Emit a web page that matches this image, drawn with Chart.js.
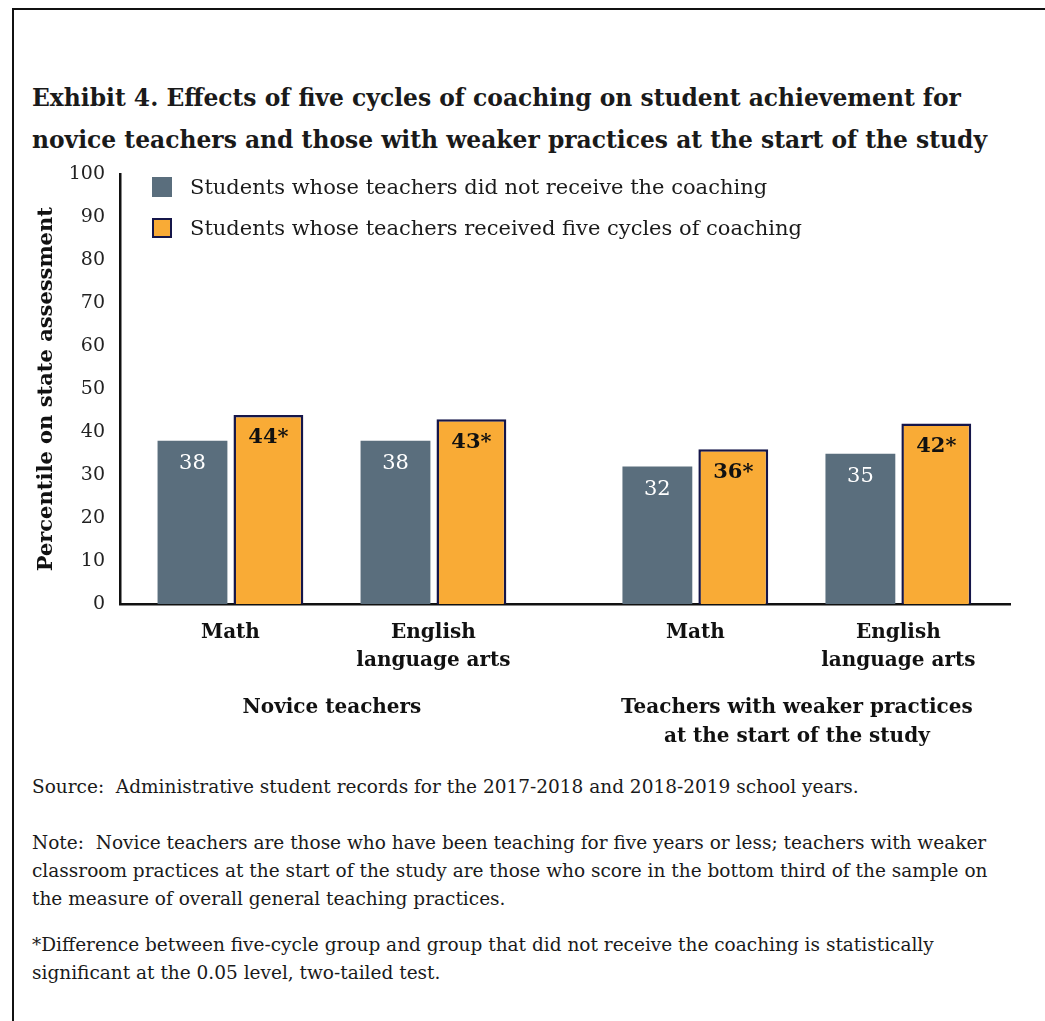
<!DOCTYPE html>
<html>
<head>
<meta charset="utf-8">
<script src="https://cdn.jsdelivr.net/npm/chart.js@4.4.1/dist/chart.umd.min.js"></script>
<style>
  body { margin: 0; background: #fff; font-family: 'DejaVu Serif', 'Liberation Serif', serif; color: #1a1a1a; }
  .page { position: relative; width: 1045px; height: 1021px; overflow: hidden; }
  .frame { position: absolute; left: 12px; top: 8px; width: 1100px; height: 1100px; border-top: 2px solid #111; border-left: 2px solid #111; }
  h2 { position: absolute; left: 32px; top: 77px; margin: 0; font-size: 23.4px; line-height: 42px; font-weight: bold; white-space: nowrap; }
  #chartBox { position: absolute; left: 0; top: 148px; width: 1045px; height: 612px; }
  #legend { position: absolute; left: 152px; top: 175px; }
  .leg-item { display: flex; align-items: center; height: 24px; margin-bottom: 17px; font-size: 21px; white-space: nowrap; }
  .leg-box { width: 20px; height: 20px; box-sizing: border-box; margin-right: 18px; }
  .note { position: absolute; left: 32px; font-size: 18.5px; line-height: 28px; margin: 0; white-space: nowrap; }
</style>
</head>
<body>
<div class="page">
  <div class="frame"></div>
  <h2>Exhibit 4. Effects of five cycles of coaching on student achievement for<br>novice teachers and those with weaker practices at the start of the study</h2>
  <div id="chartBox"><canvas id="coachChart"></canvas></div>
  <div id="legend"></div>
  <p class="note" style="top:773px">Source:&nbsp; Administrative student records for the 2017-2018 and 2018-2019 school years.</p>
  <p class="note" style="top:829px">Note:&nbsp; Novice teachers are those who have been teaching for five years or less; teachers with weaker<br>classroom practices at the start of the study are those who score in the bottom third of the sample on<br>the measure of overall general teaching practices.</p>
  <p class="note" style="top:931px">*Difference between five-cycle group and group that did not receive the coaching is statistically<br>significant at the 0.05 level, two-tailed test.</p>
</div>
<script>
// categories and groups
const categories = ['Math', ['English', 'language arts'], 'Math', ['English', 'language arts']];
const groupOf = [0, 0, 1, 1];
const groups = ['Novice teachers', ['Teachers with weaker practices', 'at the start of the study']];

// series values (percentile)
const noCoaching = [38, 38, 32, 35];
const fiveCycles = [44, 43, 36, 42];
const fiveCyclesSig = [true, true, true, true];

const yTicks = [0, 10, 20, 30, 40, 50, 60, 70, 80, 90, 100];

const seriesNames = [
  'Students whose teachers did not receive the coaching',
  'Students whose teachers received five cycles of coaching'
];

// slot positions on the x axis, with extra room between the two teacher groups
const groupGap = 0.29;
const slots = categories.map((c, i) => i + groupOf[i] * groupGap);
const groupCenters = groups.map((g, gi) => {
  const s = slots.filter((v, i) => groupOf[i] === gi);
  return (s[0] + s[s.length - 1]) / 2;
});

const GRAY = '#5a6e7d';
const ORANGE = '#f9ab36';
const NAVY = '#15164a';
const SERIF = "'DejaVu Serif', 'Liberation Serif', serif";

// draws the value inside the top of each bar
const barValues = {
  id: 'barValues',
  afterDatasetsDraw(chart) {
    const ctx = chart.ctx;
    ctx.save();
    ctx.textAlign = 'center';
    ctx.textBaseline = 'middle';
    chart.data.datasets.forEach((ds, di) => {
      chart.getDatasetMeta(di).data.forEach((bar, i) => {
        const v = ds.data[i].y;
        let txt = String(v);
        if (di === 1) {
          if (fiveCyclesSig[i]) txt += '*';
          ctx.fillStyle = '#111';
          ctx.font = 'bold 21px ' + SERIF;
        } else {
          ctx.fillStyle = '#ffffff';
          ctx.font = '21px ' + SERIF;
        }
        ctx.fillText(txt, bar.x, bar.y + 23);
      });
    });
    ctx.restore();
  }
};

const xRange = { min: slots[0] - 0.544, max: slots[slots.length - 1] + 0.55 };

const chart = new Chart(document.getElementById('coachChart'), {
  type: 'bar',
  data: {
    datasets: [
      {
        label: seriesNames[0],
        data: noCoaching.map((v, i) => ({ x: slots[i], y: v })),
        backgroundColor: GRAY,
        borderWidth: 0
      },
      {
        label: seriesNames[1],
        data: fiveCycles.map((v, i) => ({ x: slots[i], y: v })),
        backgroundColor: ORANGE,
        borderColor: NAVY,
        borderWidth: 2.5
      }
    ]
  },
  options: {
    responsive: true,
    maintainAspectRatio: false,
    animation: false,
    categoryPercentage: 0.748,
    barPercentage: 0.92,
    layout: { padding: { top: 6, right: 35, left: 0, bottom: 0 } },
    plugins: {
      legend: { display: false },
      tooltip: { enabled: false }
    },
    scales: {
      x: {
        type: 'linear',
        position: 'bottom',
        weight: 0,
        offset: false,
        min: xRange.min,
        max: xRange.max,
        afterBuildTicks(scale) { scale.ticks = slots.map(v => ({ value: v })); },
        afterFit(scale) { scale.height = 76; },
        grid: { display: false, drawTicks: false },
        border: { display: true, color: '#111', width: 2.5 },
        ticks: {
          autoSkip: false,
          maxRotation: 0,
          padding: 15,
          color: '#111',
          font: { family: SERIF, size: 20, weight: 'bold', lineHeight: '28px' },
          callback: (value, index) => categories[index]
        }
      },
      x2: {
        type: 'linear',
        position: 'bottom',
        weight: 1,
        offset: false,
        min: xRange.min,
        max: xRange.max,
        afterBuildTicks(scale) { scale.ticks = groupCenters.map(v => ({ value: v })); },
        afterFit(scale) { scale.height = 80; },
        grid: { display: false, drawTicks: false },
        border: { display: false },
        ticks: {
          autoSkip: false,
          maxRotation: 0,
          padding: 13,
          color: '#111',
          font: { family: SERIF, size: 20, weight: 'bold', lineHeight: '29px' },
          callback: (value, index) => groups[index]
        }
      },
      y: {
        min: 0,
        max: 100,
        afterBuildTicks(scale) { scale.ticks = yTicks.map(v => ({ value: v })); },
        afterFit(scale) { scale.width = 120; },
        grid: { display: false, drawTicks: false },
        border: { display: true, color: '#111', width: 2.5 },
        ticks: {
          padding: 15,
          color: '#222',
          font: { family: SERIF, size: 19 }
        },
        title: {
          display: true,
          text: 'Percentile on state assessment',
          color: '#111',
          padding: { top: 34, bottom: 0 },
          font: { family: SERIF, size: 21, weight: 'bold' }
        }
      }
    }
  },
  plugins: [barValues]
});

// html legend from the datasets
const legendEl = document.getElementById('legend');
chart.data.datasets.forEach(ds => {
  const item = document.createElement('div');
  item.className = 'leg-item';
  const box = document.createElement('span');
  box.className = 'leg-box';
  box.style.background = ds.backgroundColor;
  if (ds.borderWidth) box.style.border = '2.5px solid ' + ds.borderColor;
  const txt = document.createElement('span');
  txt.textContent = ds.label;
  item.appendChild(box);
  item.appendChild(txt);
  legendEl.appendChild(item);
});
</script>
</body>
</html>
